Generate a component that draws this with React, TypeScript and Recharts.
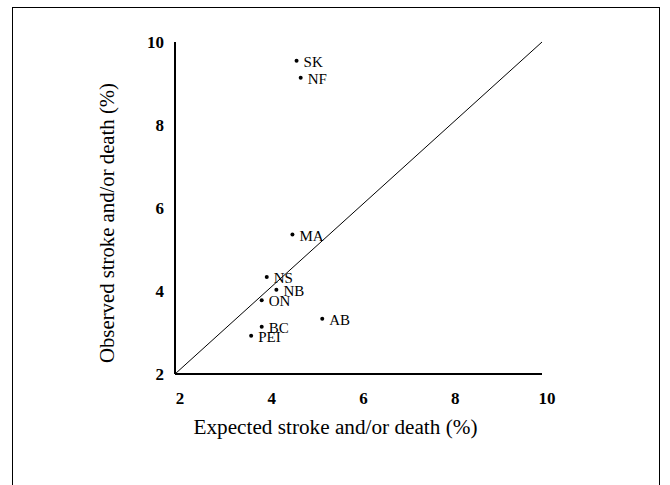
import { ScatterChart, Scatter, XAxis, YAxis, ReferenceLine } from "recharts";

const PROVINCES = ["SK", "NF", "MA", "NS", "NB", "ON", "AB", "BC", "PEI"];
const EXPECTED = [4.65, 4.74, 4.56, 4.0, 4.21, 3.89, 5.21, 3.89, 3.66];
const OBSERVED = [9.55, 9.14, 5.36, 4.34, 4.03, 3.78, 3.33, 3.14, 2.92];
const TICKS = [2, 4, 6, 8, 10];
const IDENTITY = [2, 10];

const points = PROVINCES.map((name, i) => ({ name, x: EXPECTED[i], y: OBSERVED[i] }));
const identityLine = IDENTITY.map((v) => ({ x: v, y: v }));

const FONT = "'Liberation Serif', 'Times New Roman', serif";

const XTitle = ({ viewBox }: any) => (
  <text
    x={viewBox.x + viewBox.width / 2 - 23}
    y={viewBox.y + 60}
    textAnchor="middle"
    fontFamily={FONT}
    fontSize={20}
    fill="#000"
    textLength={284}
    lengthAdjust="spacingAndGlyphs"
  >
    Expected stroke and/or death (%)
  </text>
);

const YTitle = ({ viewBox }: any) => {
  const cx = 114;
  const cy = viewBox.y + viewBox.height / 2 + 15;
  return (
    <text
      x={cx}
      y={cy}
      transform={`rotate(-90, ${cx}, ${cy})`}
      textAnchor="middle"
      fontFamily={FONT}
      fontSize={20}
      fill="#000"
      textLength={280}
      lengthAdjust="spacingAndGlyphs"
    >
      Observed stroke and/or death (%)
    </text>
  );
};

const Dot = (props: any) => {
  const { cx, cy, payload } = props;
  return (
    <g>
      <circle cx={cx} cy={cy} r={2} fill="#000" />
      <text x={cx + 7} y={cy + 6} fontFamily={FONT} fontSize={15} fill="#000">
        {payload.name}
      </text>
    </g>
  );
};

export default function App() {
  return (
    <div style={{ position: "absolute", left: 0, top: 0, width: 670, height: 485, overflow: "hidden", background: "#fff" }}>
      <div
        style={{
          position: "absolute", left: 12, top: 7, width: 646, height: 520,
          borderLeft: "1.5px solid #000", borderTop: "1.5px solid #000", borderRight: "1.5px solid #000",
        }}
      />
      <div style={{ position: "absolute", left: 0, top: 0 }}>
        <ScatterChart width={670} height={485} margin={{ left: 115, right: 128, top: 42, bottom: 81 }}>
          <XAxis
            type="number" dataKey="x" domain={[2, 10]} ticks={TICKS} allowDataOverflow
            height={30} tickLine={false} tickSize={6} tickMargin={12}
            axisLine={{ stroke: "#000", strokeWidth: 2 }}
            tick={{ fill: "#000", fontSize: 17, fontWeight: 700, fontFamily: FONT, dx: 5 }}
            label={<XTitle />}
          />
          <YAxis
            type="number" dataKey="y" domain={[2, 10]} ticks={TICKS} allowDataOverflow
            width={60} tickLine={false} tickSize={6} tickMargin={5}
            axisLine={{ stroke: "#000", strokeWidth: 2 }}
            tick={{ fill: "#000", fontSize: 17, fontWeight: 700, fontFamily: FONT }}
            label={<YTitle />}
          />
          <ReferenceLine segment={identityLine} stroke="#000" strokeWidth={1} />
          <Scatter data={points} shape={<Dot />} isAnimationActive={false} />
        </ScatterChart>
      </div>
    </div>
  );
}
